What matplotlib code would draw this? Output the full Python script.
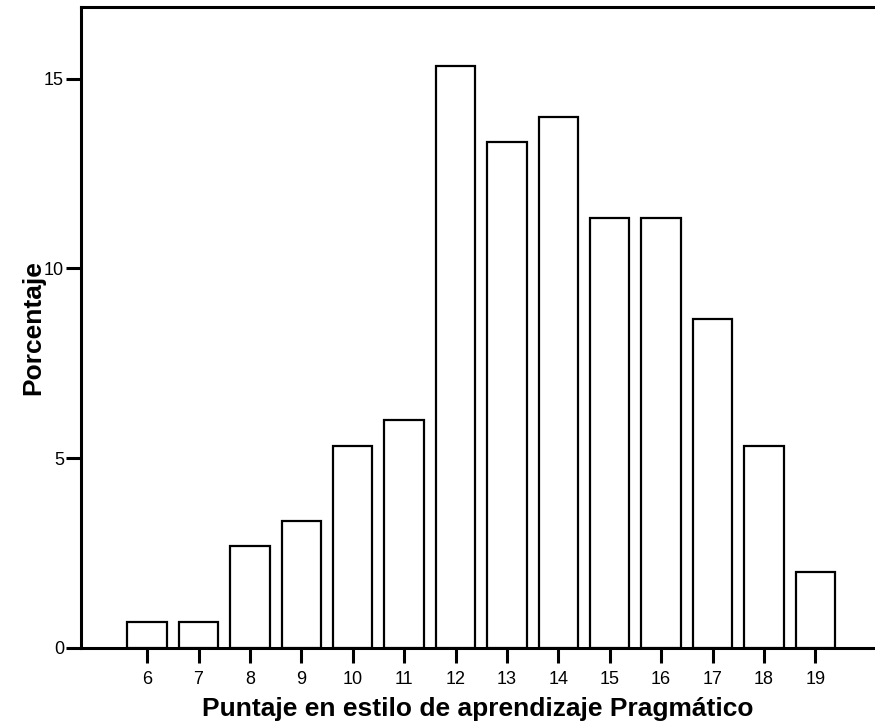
import matplotlib
matplotlib.use("Agg")
import matplotlib.pyplot as plt

categories = [6, 7, 8, 9, 10, 11, 12, 13, 14, 15, 16, 17, 18, 19]
percentages = [0.67, 0.67, 2.67, 3.33, 5.33, 6.00, 15.33, 13.33, 14.00, 11.33, 11.33, 8.67, 5.33, 2.00]
y_ticks = [0, 5, 10, 15]
x_label = "Puntaje en estilo de aprendizaje Pragmático"
y_label = "Porcentaje"

plt.rcParams['font.family'] = ['Liberation Sans', 'DejaVu Sans']

fig = plt.figure(figsize=(8.75, 7.28), dpi=100)
ax = fig.add_axes([81.3 / 875, 1 - 647.7 / 728, 1 - 81.3 / 875, (647.7 - 6.7) / 728])

ax.bar(categories, percentages, width=0.765, facecolor='white', edgecolor='black', linewidth=1.6, zorder=3)

ax.set_xlim(4.72, 20.16)
ax.set_ylim(0, 16.9)
ax.set_xticks(categories)
ax.set_xticklabels([str(c) for c in categories])
ax.set_yticks(y_ticks)

for s in ['left', 'bottom', 'top']:
    ax.spines[s].set_linewidth(2.2)
    ax.spines[s].set_color('black')
ax.spines['right'].set_visible(False)

ax.tick_params(axis='both', direction='out', length=10.5, width=2.2, labelsize=13, colors='black')
ax.tick_params(axis='y', pad=2)
ax.tick_params(axis='x', pad=6)

ax.set_xlabel(x_label, fontsize=19, fontweight='bold', labelpad=7)
ax.set_ylabel(y_label, fontsize=19, fontweight='bold')
ax.yaxis.set_label_coords(-0.046, 0.5)
ax.yaxis.label.set_va('bottom')

fig.savefig("out.png", dpi=100)
